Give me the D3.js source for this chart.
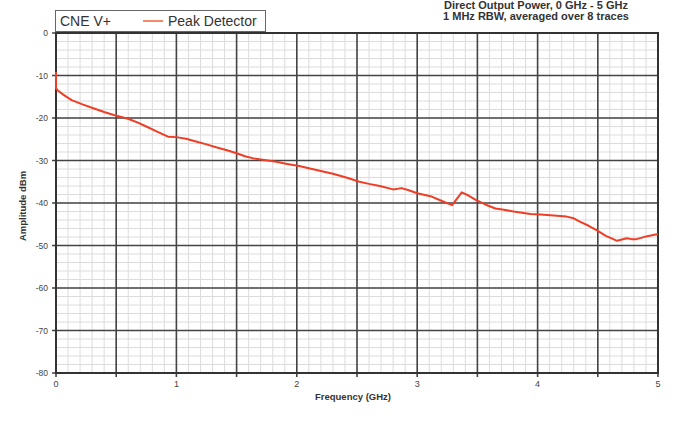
<!DOCTYPE html>
<html>
<head>
<meta charset="utf-8">
<script src="https://cdn.jsdelivr.net/npm/d3@7"></script>
<style>
  body { margin: 0; background: #fff; }
  svg { display: block; font-family: "Liberation Sans", Arial, sans-serif; }
</style>
</head>
<body>
<svg id="chart" width="676" height="428"></svg>
<script>
var freq = [0, 0, 0.01, 0.06, 0.13, 0.22, 0.31, 0.40, 0.48, 0.55, 0.61, 0.68, 0.75, 0.84, 0.93, 1.0,
  1.08, 1.17, 1.25, 1.33, 1.42, 1.50, 1.57, 1.64, 1.73, 1.83, 1.92, 2.02, 2.10, 2.19, 2.30, 2.41,
  2.52, 2.60, 2.69, 2.80, 2.87, 2.93, 3.0, 3.11, 3.22, 3.29, 3.37, 3.43, 3.49, 3.57, 3.65, 3.72,
  3.80, 3.87, 3.94, 4.02, 4.08, 4.16, 4.24, 4.30, 4.35, 4.42, 4.49, 4.57, 4.62, 4.66, 4.70, 4.74,
  4.78, 4.82, 4.86, 4.91, 4.95, 5.0]
var amplitude = [-9.2, -13.0, -13.4, -14.5, -15.8, -16.8, -17.7, -18.6, -19.3, -19.8, -20.3, -21.1,
  -22.0, -23.2, -24.4, -24.5, -24.9, -25.6, -26.2, -26.9, -27.6, -28.3, -29.0, -29.5, -29.9, -30.3,
  -30.8, -31.3, -31.8, -32.4, -33.1, -34.0, -35.0, -35.5, -36.0, -36.8, -36.5, -37.0, -37.7, -38.4,
  -39.7, -40.5, -37.5, -38.3, -39.3, -40.4, -41.3, -41.6, -42.0, -42.3, -42.6, -42.7, -42.8, -43.0,
  -43.2, -43.6, -44.4, -45.3, -46.4, -47.8, -48.4, -48.9, -48.6, -48.3, -48.5, -48.5, -48.2, -47.8,
  -47.6, -47.3]
var xTicks = [0, 1, 2, 3, 4, 5]
var yTicks = [0, -10, -20, -30, -40, -50, -60, -70, -80]
var titleLines = ["Direct Output Power, 0 GHz - 5 GHz", "1 MHz RBW, averaged over 8 traces"]
var seriesNames = ["CNE V+", "Peak Detector"]

var svg = d3.select("#chart")
var plotLeft = 56, plotRight = 658, plotTop = 33, plotBottom = 373

var x = d3.scaleLinear().domain([0, 5]).range([plotLeft, plotRight])
var y = d3.scaleLinear().domain([-80, 0]).range([plotBottom, plotTop])

var grid = svg.append("g")
// minor grid
grid.selectAll(".vminor").data(d3.range(0, 50).map(function (i) { return i / 10 }))
  .enter().append("line")
  .attr("x1", function (d) { return x(d) }).attr("x2", function (d) { return x(d) })
  .attr("y1", plotTop).attr("y2", plotBottom)
  .attr("stroke", "#dcdcdc").attr("stroke-width", 1)
grid.selectAll(".hminor").data(d3.range(0, 40).map(function (i) { return -i * 2 }))
  .enter().append("line")
  .attr("x1", plotLeft).attr("x2", plotRight)
  .attr("y1", function (d) { return y(d) }).attr("y2", function (d) { return y(d) })
  .attr("stroke", "#dcdcdc").attr("stroke-width", 1)
// major grid
grid.selectAll(".vmajor").data(d3.range(0, 11).map(function (i) { return i / 2 }))
  .enter().append("line")
  .attr("x1", function (d) { return x(d) }).attr("x2", function (d) { return x(d) })
  .attr("y1", plotTop).attr("y2", plotBottom + 4)
  .attr("stroke", "#444").attr("stroke-width", 1.6)
grid.selectAll(".hmajor").data(yTicks)
  .enter().append("line")
  .attr("x1", plotLeft - 4).attr("x2", plotRight)
  .attr("y1", function (d) { return y(d) }).attr("y2", function (d) { return y(d) })
  .attr("stroke", "#444").attr("stroke-width", 1.6)

svg.append("rect")
  .attr("x", plotLeft).attr("y", plotTop).attr("width", plotRight - plotLeft).attr("height", plotBottom - plotTop)
  .attr("fill", "none").attr("stroke", "#333").attr("stroke-width", 2)

// tick labels
svg.selectAll(".ylab").data(yTicks).enter().append("text")
  .attr("x", plotLeft - 8).attr("y", function (d) { return y(d) + 3 })
  .attr("text-anchor", "end").attr("font-size", 8.5).attr("fill", "#444")
  .text(function (d) { return d })
svg.selectAll(".xlab").data(xTicks).enter().append("text")
  .attr("x", function (d) { return x(d) }).attr("y", plotBottom + 14)
  .attr("text-anchor", "middle").attr("font-size", 9).attr("fill", "#444")
  .text(function (d) { return d })

// axis titles
svg.append("text").attr("x", 353).attr("y", 400)
  .attr("text-anchor", "middle").attr("font-size", 9.5).attr("font-weight", "bold").attr("fill", "#333")
  .text("Frequency (GHz)")
svg.append("text").attr("transform", "translate(26,206) rotate(-90)")
  .attr("text-anchor", "middle").attr("font-size", 9.5).attr("font-weight", "bold").attr("fill", "#333")
  .text("Amplitude   dBm")

// title
svg.selectAll(".title").data(titleLines).enter().append("text")
  .attr("x", 536).attr("y", function (d, i) { return 9 + i * 11 })
  .attr("text-anchor", "middle").attr("font-size", 11).attr("font-weight", "bold").attr("fill", "#333")
  .text(function (d) { return d })

// trace
var line = d3.line()
  .x(function (d) { return x(d[0]) })
  .y(function (d) { return y(d[1]) })
svg.append("path")
  .datum(d3.zip(freq, amplitude))
  .attr("d", line)
  .attr("fill", "none").attr("stroke", "#ef3e26").attr("stroke-width", 2).attr("stroke-linejoin", "round")

// legend
var legend = svg.append("g")
legend.append("rect").attr("x", 55.5).attr("y", 10.5).attr("width", 210).attr("height", 21)
  .attr("fill", "#fff").attr("stroke", "#666").attr("stroke-width", 1)
legend.append("text").attr("x", 60).attr("y", 26).attr("font-size", 14).attr("fill", "#333").text(seriesNames[0])
legend.append("line").attr("x1", 143).attr("x2", 163).attr("y1", 21).attr("y2", 21)
  .attr("stroke", "#f48a6a").attr("stroke-width", 2)
legend.append("text").attr("x", 168).attr("y", 26).attr("font-size", 14).attr("fill", "#333").text(seriesNames[1])
</script>
</body>
</html>
